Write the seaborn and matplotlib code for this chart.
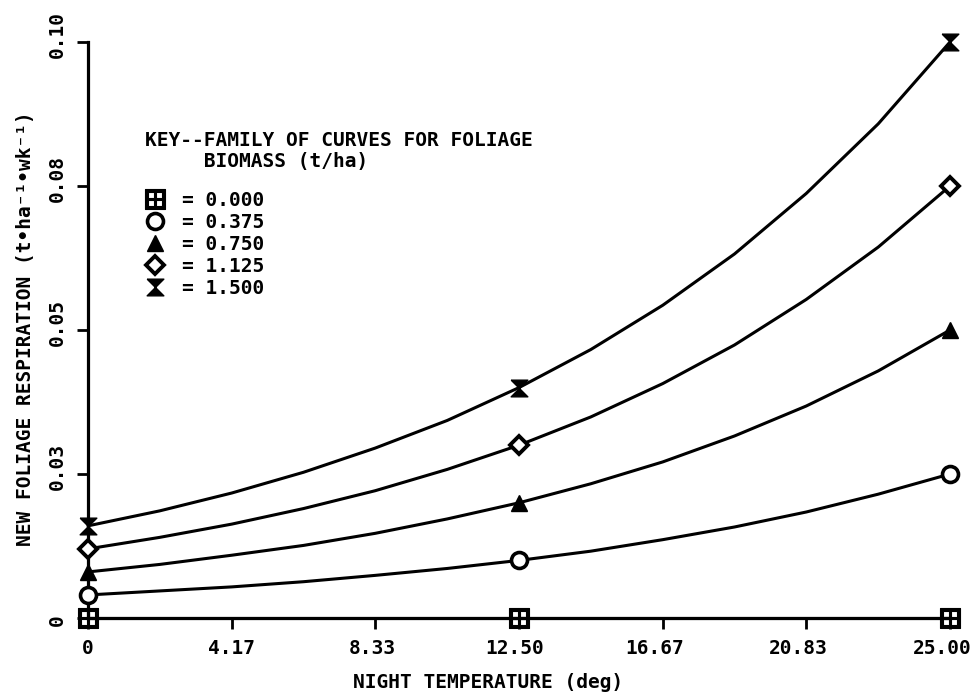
import numpy as np
import pandas as pd
import matplotlib
matplotlib.use("Agg")
import matplotlib.pyplot as plt
import matplotlib.transforms as mtransforms
from matplotlib.lines import Line2D
import seaborn as sns

# ---- data ----
temps = [0.0, 2.08, 4.17, 6.25, 8.33, 10.42, 12.50, 14.58, 16.67, 18.75, 20.83, 22.92, 25.00]
biomass_levels = ["0.000", "0.375", "0.750", "1.125", "1.500"]
resp_0000 = [0.0] * 13
resp_0375 = [0.0040, 0.0047, 0.0054, 0.0063, 0.0074, 0.0086, 0.0100, 0.0116, 0.0136, 0.0158, 0.0184, 0.0215, 0.0250]
resp_0750 = [0.0080, 0.0093, 0.0109, 0.0126, 0.0147, 0.0172, 0.0200, 0.0233, 0.0271, 0.0316, 0.0368, 0.0429, 0.0500]
resp_1125 = [0.0120, 0.0140, 0.0163, 0.0190, 0.0221, 0.0258, 0.0300, 0.0349, 0.0407, 0.0474, 0.0553, 0.0644, 0.0750]
resp_1500 = [0.0160, 0.0186, 0.0217, 0.0253, 0.0295, 0.0343, 0.0400, 0.0466, 0.0543, 0.0632, 0.0737, 0.0858, 0.1000]
marker_temps = [0.0, 12.50, 25.00]

xticks = [0, 4.17, 8.33, 12.50, 16.67, 20.83, 25.00]
xticklabels = ["0", "4.17", "8.33", "12.50", "16.67", "20.83", "25.00"]
yticks = [0, 0.025, 0.05, 0.075, 0.10]
yticklabels = ["0", "0.03", "0.05", "0.08", "0.10"]

series = [resp_0000, resp_0375, resp_0750, resp_1125, resp_1500]
df = pd.concat(
    [pd.DataFrame({"temp": temps, "resp": s, "biomass": b}) for s, b in zip(series, biomass_levels)],
    ignore_index=True,
)

# ---- style ----
sns.set_theme(style="ticks")
plt.rcParams["font.family"] = ["DejaVu Sans Mono", "DejaVu Sans"]
plt.rcParams["font.weight"] = "bold"
for k in ("text.color", "axes.labelcolor", "xtick.color", "ytick.color", "axes.edgecolor"):
    plt.rcParams[k] = "black"

FS = 14

fig = plt.figure(figsize=(9.75, 6.98), dpi=100)
ax = fig.add_axes([88 / 975, 80 / 698, 862 / 975, 576 / 698])

sns.lineplot(data=df, x="temp", y="resp", hue="biomass",
             palette={b: "black" for b in biomass_levels},
             linewidth=2.2, legend=False, ax=ax, clip_on=False)

hourglass = [(-1, 1), (1, 1), (-1, -1), (1, -1), (-1, 1)]
marker_styles = {
    "0.000": dict(marker=r"$\boxplus$", markersize=14, markerfacecolor="black", markeredgecolor="black", markeredgewidth=0.8),
    "0.375": dict(marker="o", markersize=11.5, markerfacecolor="white", markeredgecolor="black", markeredgewidth=2.6),
    "0.750": dict(marker="^", markersize=12, markerfacecolor="black", markeredgecolor="black"),
    "1.125": dict(marker="D", markersize=9, markerfacecolor="white", markeredgecolor="black", markeredgewidth=2.8),
    "1.500": dict(marker=hourglass, markersize=12, markerfacecolor="black", markeredgecolor="black"),
}

mk = df[df["temp"].isin(marker_temps)]
for b in biomass_levels:
    sub = mk[mk["biomass"] == b]
    ax.plot(sub["temp"], sub["resp"], linestyle="none", clip_on=False, zorder=5,
            **marker_styles[b])

ax.set_xlim(0, 25)
ax.set_ylim(0, 0.10)
sns.despine(ax=ax)
for side in ("left", "bottom"):
    ax.spines[side].set_linewidth(2.3)
    ax.spines[side].set_color("black")

ax.set_xticks(xticks)
ax.set_xticklabels(xticklabels, fontsize=FS, fontweight="bold")
ax.set_yticks(yticks)
ax.set_yticklabels(yticklabels, fontsize=FS, fontweight="bold", rotation=90, va="center")
ax.tick_params(axis="both", direction="out", length=8, width=2, color="black")
ax.tick_params(axis="x", pad=7)
ax.tick_params(axis="y", pad=7)

# small label offsets as in the reference
x_shift = [0, 0, -3, -4, -8, -8, -8]
for lab, dx in zip(ax.get_xticklabels(), x_shift):
    lab.set_transform(lab.get_transform() + mtransforms.ScaledTranslation(dx / 100, 0, fig.dpi_scale_trans))
y_shift = [-2, 7, 7, 8, 8]
for lab, dy in zip(ax.get_yticklabels(), y_shift):
    lab.set_transform(lab.get_transform() + mtransforms.ScaledTranslation(0, dy / 100, fig.dpi_scale_trans))

ax.set_xlabel("NIGHT TEMPERATURE (deg)", fontsize=FS, fontweight="bold", va="top")
ax.xaxis.set_label_coords(0.464, -0.095)
ax.set_ylabel("NEW FOLIAGE RESPIRATION (t•ha⁻¹•wk⁻¹)", fontsize=FS, fontweight="bold")
ax.yaxis.label.set_verticalalignment("center")
ax.yaxis.set_label_coords(-0.072, 0.503)

handles = [Line2D([], [], linestyle="none", color="black", **marker_styles[b]) for b in biomass_levels]
labels = ["= " + b for b in biomass_levels]
leg = ax.legend(handles, labels,
                title="KEY--FAMILY OF CURVES FOR FOLIAGE\n     BIOMASS (t/ha)",
                loc="upper left", bbox_to_anchor=(0.066, 0.845),
                frameon=False, fontsize=FS, title_fontsize=FS,
                handlelength=1.0, handletextpad=0.9, labelspacing=0.16,
                borderpad=0, borderaxespad=0, alignment="left")
leg._legend_box.sep = 14
leg.get_title().set_fontweight("bold")
leg.get_title().set_linespacing(1.12)
for t in leg.get_texts():
    t.set_fontweight("bold")

fig.savefig("out.png", dpi=100)
